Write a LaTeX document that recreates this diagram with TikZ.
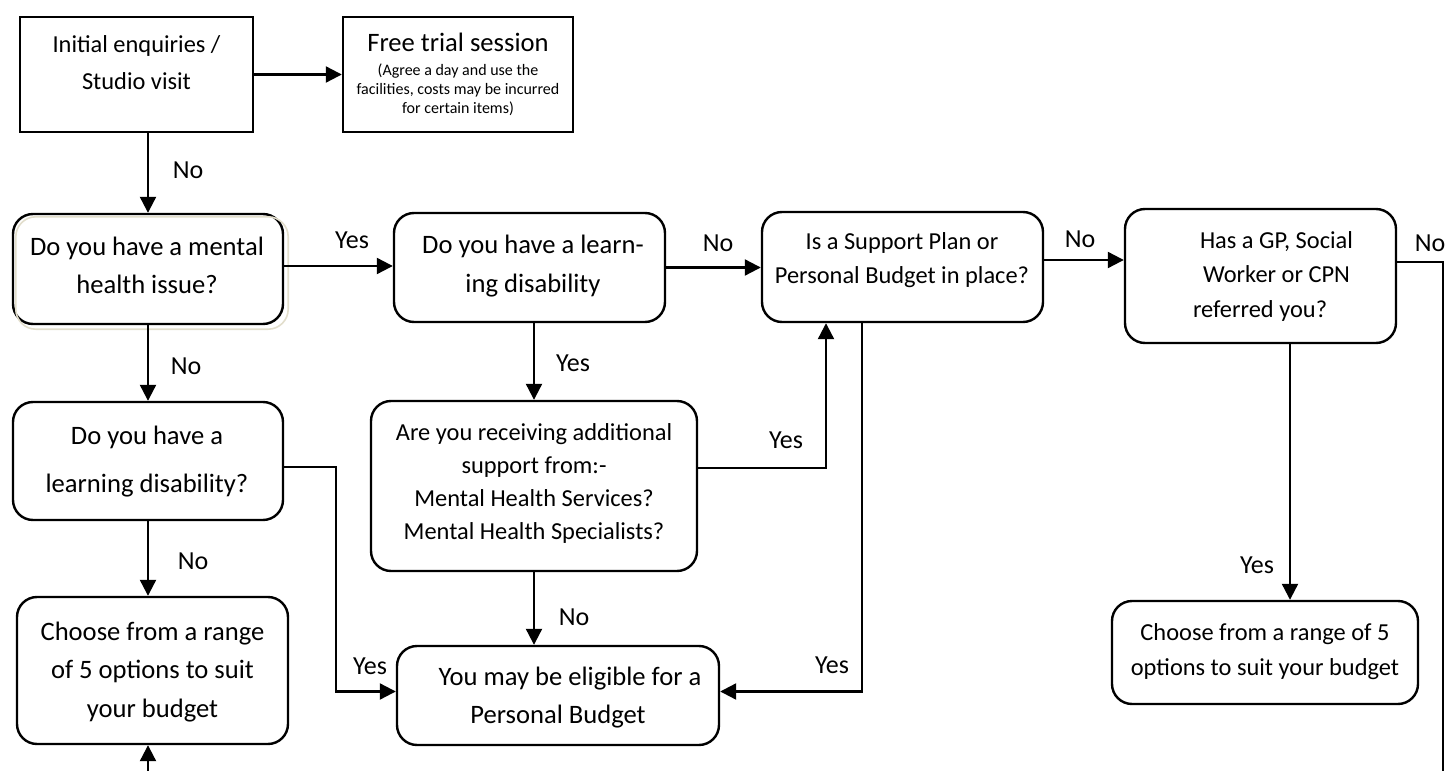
\documentclass[tikz,border=0pt]{standalone}
\usepackage{fontspec}
\setmainfont{Carlito}
\usetikzlibrary{arrows.meta,calc}
\definecolor{shadowbeige}{RGB}{226,222,204}
\begin{document}
\begin{tikzpicture}[x=0.5pt,y=-0.5pt,
  box/.style={draw, line width=1.2pt, inner sep=0pt},
  rbox/.style={box, rounded corners=10pt},
  txt/.style={inner sep=0pt, align=center, font=\fontsize{13.3pt}{#1}\selectfont},
  txt/.default=18pt,
  stxt/.style={inner sep=0pt, align=center, font=\fontsize{12.2pt}{#1}\selectfont},
  stxt/.default=17pt,
  arr/.style={line width=1.1pt, -{Triangle[length=8pt,width=8pt]}},
  plain/.style={line width=1.1pt},
  lbl/.style={inner sep=0pt, font=\fontsize{13pt}{16pt}\selectfont}
]
\useasboundingbox (0,0) rectangle (1453,771);

% boxes
\node[box, minimum width=116.5pt, minimum height=57.5pt] (initial) at (136.5,74.5) {};
\node[stxt=18.5pt] (initialT) at (136.5,64.1) {\strut Initial enquiries /\\\strut Studio visit};

\node[box, minimum width=115pt, minimum height=57.5pt] (free) at (458,74.5) {};
\node[anchor=base, inner sep=0pt, font=\fontsize{13.3pt}{16pt}\selectfont] (freeT) at (458,52) {Free trial session};
\node[inner sep=0pt, align=center, font=\fontsize{8pt}{9.5pt}\selectfont] (freeS) at (458,90.2) {\strut(Agree a day and use the\\\strut facilities, costs may be incurred\\\strut for certain items)};

\node[rbox, minimum width=135pt, minimum height=55pt] (mental) at (148,269) {};
\draw[shadowbeige, line width=0.8pt, rounded corners=10pt] ($(mental.north west)+(4,4)$) rectangle ($(mental.south east)+(4,4)$);
\node[txt=19pt] (mentalT) at (147,266.4) {\strut Do you have a mental\\\strut health issue?};

\node[rbox, minimum width=135.5pt, minimum height=54.5pt] (learn) at (529.5,267.5) {};
\node[txt=19.5pt] (learnT) at (533,264.7) {\strut Do you have a learn-\\\strut ing disability};

\node[rbox, minimum width=140.5pt, minimum height=55pt] (support) at (902.5,267) {};
\node[stxt=17pt] (supportT) at (902,259.2) {\strut Is a Support Plan or\\\strut Personal Budget in place?};

\node[rbox, minimum width=135.5pt, minimum height=67pt] (gp) at (1260.5,276) {};
\node[stxt=17.25pt] (gpT) at (1276.5,275.6) {\strut Has a GP, Social\\\strut Worker or CPN\\\strut referred you?\hspace*{16.5pt}};

\node[rbox, minimum width=153pt, minimum height=51.5pt] (choose2) at (1265,652.5) {};
\node[stxt=17.5pt] (choose2T) at (1265,650.5) {\strut Choose from a range of 5\\\strut options to suit your budget};

\node[rbox, minimum width=135pt, minimum height=59pt] (ld) at (148,461) {};
\node[txt=24pt] (ldT) at (147,458.4) {\strut Do you have a\\\strut learning disability?};

\node[rbox, minimum width=135.5pt, minimum height=73.5pt] (choose1) at (152.5,670.5) {};
\node[txt=19.25pt] (choose1T) at (152.5,670.8) {\strut Choose from a range\\\strut of 5 options to suit\\\strut your budget};

\node[rbox, minimum width=163pt, minimum height=85pt] (addl) at (534,486) {};
\node[stxt=16.5pt] (addlT) at (534,482.9) {\strut Are you receiving additional\\\strut support from:-\\\strut Mental Health Services?\\\strut Mental Health Specialists?};

\node[rbox, minimum width=161pt, minimum height=49.5pt] (elig) at (558,695.5) {};
\node[txt=19pt] (eligT) at (558,696.4) {\strut\hspace*{12pt}You may be eligible for a\\\strut Personal Budget};

\coordinate (gpend) at (1443,771);
\coordinate (bot) at (148,771);

% connectors
\draw[arr] (initial.east) -- (free.west);
\draw[arr] (initial.south -| mental.north) -- (mental.north);
\draw[arr] ([yshift=1.5pt]mental.east) -- ([yshift=1.5pt]mental.east -| learn.west);
\draw[arr] (learn.east) -- (learn.east -| support.west);
\draw[arr] ([yshift=3.5pt]support.east) -- ([yshift=3.5pt]support.east -| gp.west);
\draw[plain] ([yshift=7pt]gp.east) -| (gpend);
\draw[arr] ([xshift=14.75pt]gp.south) -- ([xshift=14.75pt]gp.south |- choose2.north);
\draw[arr] (mental.south) -- (ld.north);
\draw[arr] (ld.south) -- (ld.south |- choose1.north);
\draw[arr] (bot) -- (bot |- choose1.south);
\draw[arr] ([yshift=-3pt]ld.east) -- ++(52,0) |- ([yshift=2pt]elig.west);
\draw[arr] (addl.north |- learn.south) -- (addl.north);
\draw[arr] ([yshift=9pt]addl.east) -| ([xshift=-38.25pt]support.south);
\draw[arr] (addl.south) -- (addl.south |- elig.north);
\draw[arr] ([xshift=-20.25pt]support.south) |- ([yshift=2pt]elig.east);

% labels
\node[lbl] (l1) at (188,170) {No};
\node[lbl] (l2) at (352,240) {Yes};
\node[lbl] (l3) at (718,243) {No};
\node[lbl] (l4) at (1080,239) {No};
\node[lbl] (l5) at (1430,243) {No};
\node[lbl] (l6) at (186,366) {No};
\node[lbl] (l7) at (573,363) {Yes};
\node[lbl] (l8) at (786,440) {Yes};
\node[lbl] (l9) at (193,561) {No};
\node[lbl] (l10) at (370,666) {Yes};
\node[lbl] (l11) at (574,617) {No};
\node[lbl] (l12) at (832,665) {Yes};
\node[lbl] (l13) at (1257,565) {Yes};
\end{tikzpicture}
\end{document}
